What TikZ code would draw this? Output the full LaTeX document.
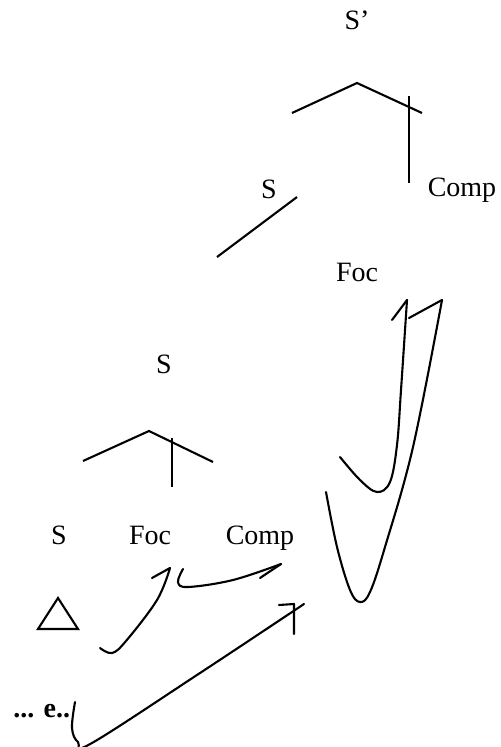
\documentclass[tikz,border=0pt]{standalone}
\usepackage{fontspec}
\setmainfont{Liberation Serif}
\usepackage{tikz}

\begin{document}
\begin{tikzpicture} [x = 0.5pt, y = -0.5pt, font = \fontsize{14}{16}\selectfont,
                     lab/.style = {anchor = base, inner sep = 0pt},
                     br/.style = {line width = 1.05pt},
                     mv/.style = {line width = 1.05pt, line join = round, line cap = round}]
                \useasboundingbox (0,0) rectangle (501,747);
                % labels
                \node [lab] (sbar) at (357,30) {S’};
                \node [lab] (s1) at (269,199) {S};
                \node [lab] (comp1) at (462,197) {Comp};
                \node [lab] (foc1) at (357,282) {Foc};
                \node [lab] (s2) at (164,373) {S};
                \node [lab] (s3) at (59,544) {S};
                \node [lab] (foc2) at (150,544) {Foc};
                \node [lab] (comp2) at (260,544) {Comp};
                \node [lab, anchor = base west] (gap) at (13,717) {\textbf{... e..}};
                % upper tree
                \coordinate (a1) at (357,83);
                \draw [br] (292,113) -- (a1) -- (422,113);
                \draw [br] (409,96) -- (409,183);
                \draw [br] (297,197) -- (217,257);
                % lower tree
                \coordinate (a2) at (149,431);
                \draw [br] (83,461) -- (a2) -- (213,462);
                \draw [br] (172,438) -- (172,487);
                \draw [br] (58,598) -- (38,629) -- (78,629) -- cycle;
                % movement
                \coordinate (t1) at (170,568);
                \coordinate (t2) at (281,564);
                \coordinate (t3) at (304,604);
                \coordinate (t4) at (407,300);
                \coordinate (t5) at (442,300);
                \draw [mv] plot [smooth, tension = 0.6] coordinates {(100,648) (112,653) (126,641) (157,600) (t1)};
                \draw [mv] (152,578) -- (t1);
                \draw [mv] plot [smooth, tension = 0.6] coordinates {(183,569) (178,582) (188,587) (233,580) (t2)};
                \draw [mv] (260,578) -- (t2);
                \draw [mv] plot [smooth, tension = 0.6] coordinates {(75,702) (72,728) (78,742) (92,743) (200,673) (t3)};
                \draw [mv] (279,605) -- (294,604) -- (294,634);
                \draw [mv] plot [smooth, tension = 0.6] coordinates {(340,457) (360,480) (377,492) (390,482) (397,445) (401,390) (t4)};
                \draw [mv] (392,320) -- (t4);
                \draw [mv] plot [smooth, tension = 0.6] coordinates {(326,492) (337,547) (350,590) (360,602) (370,592) (385,547) (413,447) (t5)};
                \draw [mv] (409,318) -- (t5);
            \end{tikzpicture}
\end{document}
